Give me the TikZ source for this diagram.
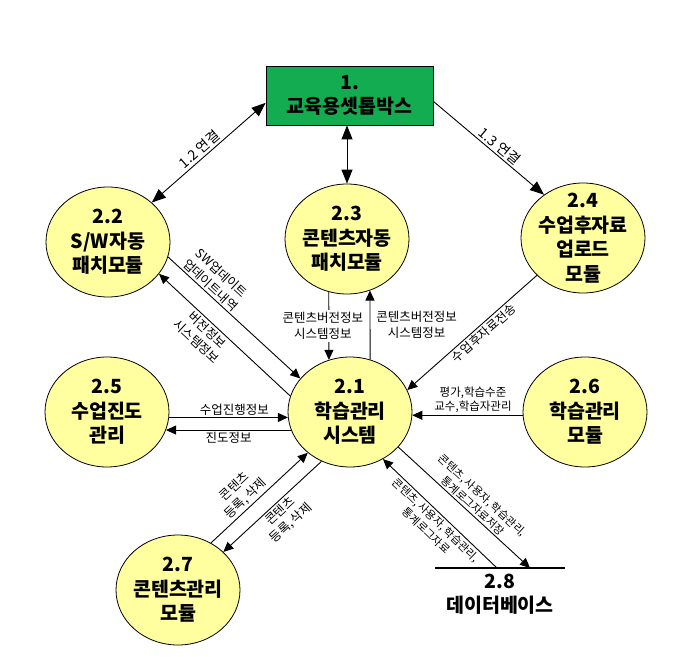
\documentclass[tikz,border=0pt]{standalone}
\usepackage{fontspec}
\setmainfont{Noto Sans CJK KR}
\usetikzlibrary{shapes.geometric,arrows.meta}
\definecolor{boxgreen}{RGB}{20,172,80}
\definecolor{procyellow}{RGB}{255,255,160}

\begin{document}
\begin{tikzpicture}[x=1pt, y=-1pt,
        proc/.style={ellipse, draw=black, line width=0.8pt, fill=procyellow, minimum width=124pt, minimum height=110pt, inner sep=0pt},
        bigtxt/.style={align=center, font=\fontsize{19.5}{24.5}\selectfont\bfseries},
        flow/.style={line width=0.9pt, -{Triangle[length=10pt,width=9pt]}},
        bigflow/.style={line width=0.9pt, -{Triangle[length=14pt,width=11pt]}},
        link/.style={line width=0.9pt, {Triangle[length=14pt,width=11pt]}-{Triangle[length=14pt,width=11pt]}},
        lbl/.style={align=center, font=\fontsize{12.5}{16}\selectfont, inner sep=2pt},
        dblbl/.style={lbl, font=\fontsize{11}{14}\selectfont}]
        \useasboundingbox (0,0) rectangle (679,656);

        \node[draw=black, line width=0.8pt, fill=boxgreen, minimum width=167pt, minimum height=59pt, inner sep=0pt, bigtxt] (n1) at (349.5,95.5) {1.\\교육용셋톱박스};

        \node[proc, label={[bigtxt]center:2.1\\학습관리\\시스템}] (n21) at (350,412) {};
        \node[proc, label={[bigtxt]center:2.2\\S/W자동\\패치모듈}] (n22) at (108,242) {};
        \node[proc, label={[bigtxt]center:2.3\\콘텐츠자동\\패치모듈}] (n23) at (347,239) {};
        \node[proc, label={[bigtxt]center:2.4\\수업후자료\\업로드\\모듈}] (n24) at (583,238) {};
        \node[proc, label={[bigtxt]center:2.5\\수업진도\\관리}] (n25) at (107,412) {};
        \node[proc, label={[bigtxt]center:2.6\\학습관리\\모듈}] (n26) at (585,412) {};
        \node[proc, label={[bigtxt]center:2.7\\콘텐츠관리\\모듈}] (n27) at (178,590) {};

        \node[bigtxt, anchor=north, minimum width=130pt, inner xsep=0pt, inner ysep=6pt, outer sep=0pt] (n28) at (500,568) {2.8\\데이터베이스};
        \draw[line width=2.8pt] (n28.north west) -- (n28.north east);

        % set-top box links
        \draw[link] (n1.185) -- (n22.42) node[lbl, sloped, above, pos=0.53, font=\fontsize{14}{16}\selectfont] {1.2 연결};
        \draw[link] (n23.north |- n1.south) -- (n23.north);
        \draw[bigflow] (n1.-4) -- (n24.132) node[lbl, sloped, above, pos=0.55, font=\fontsize{14}{16}\selectfont] {1.3 연결};

        % 2.2 <-> 2.1
        \draw[flow] (n22.-14) -- (n21.146) node[lbl, sloped, above, pos=0.28] {SW업데이트\\업데이트내역};
        \draw[flow] (n21.165) -- (n22.-32) node[lbl, sloped, below, pos=0.59] {버전정보\\시스템정보};

        % 2.3 <-> 2.1
        \draw[flow] (n23.-109) -- (n21.112) node[lbl, fill=white, pos=0.5, xshift=-6pt] {콘텐츠버전정보\\시스템정보};
        \draw[flow] (n21.69) -- (n23.-66) node[lbl, right, midway, inner xsep=6pt] {콘텐츠버전정보\\시스템정보};

        % 2.4 -> 2.1
        \draw[flow] (n24.219) -- (n21.21) node[lbl, sloped, below, pos=0.45] {수업후자료전송};

        % 2.5 <-> 2.1
        \draw[flow] (n25.-5) -- (n21.185) node[lbl, above, pos=0.55] {수업진행정보};
        \draw[flow] (n21.197) -- (n25.-17) node[lbl, below, midway] {진도정보};

        % 2.6 -> 2.1
        \draw[flow] (n26.183) -- (n21.-3) node[lbl, above, pos=0.45, font=\fontsize{11.5}{14.5}\selectfont] {평가,학습수준\\교수,학습자관리};

        % 2.7 <-> 2.1
        \draw[flow] (n27.55) -- (n21.224) node[lbl, sloped, above, pos=0.42] {콘텐츠\\등록,\,삭제};
        \draw[flow] (n21.240) -- (n27.40) node[lbl, sloped, below, pos=0.48] {콘텐츠\\등록,\,삭제};

        % 2.1 <-> 2.8
        \draw[flow] (n21.-36) -- ([xshift=30pt]n28.north) node[dblbl, sloped, above, pos=0.53] {콘텐츠,\,사용자,\,학습관리,\\통계로그자료저장};
        \draw[flow] ([xshift=-3pt]n28.north) -- (n21.-55) node[dblbl, sloped, below, pos=0.49] {콘텐츠,\,사용자,\,학습관리,\\통계로그자료};
    \end{tikzpicture}
\end{document}
